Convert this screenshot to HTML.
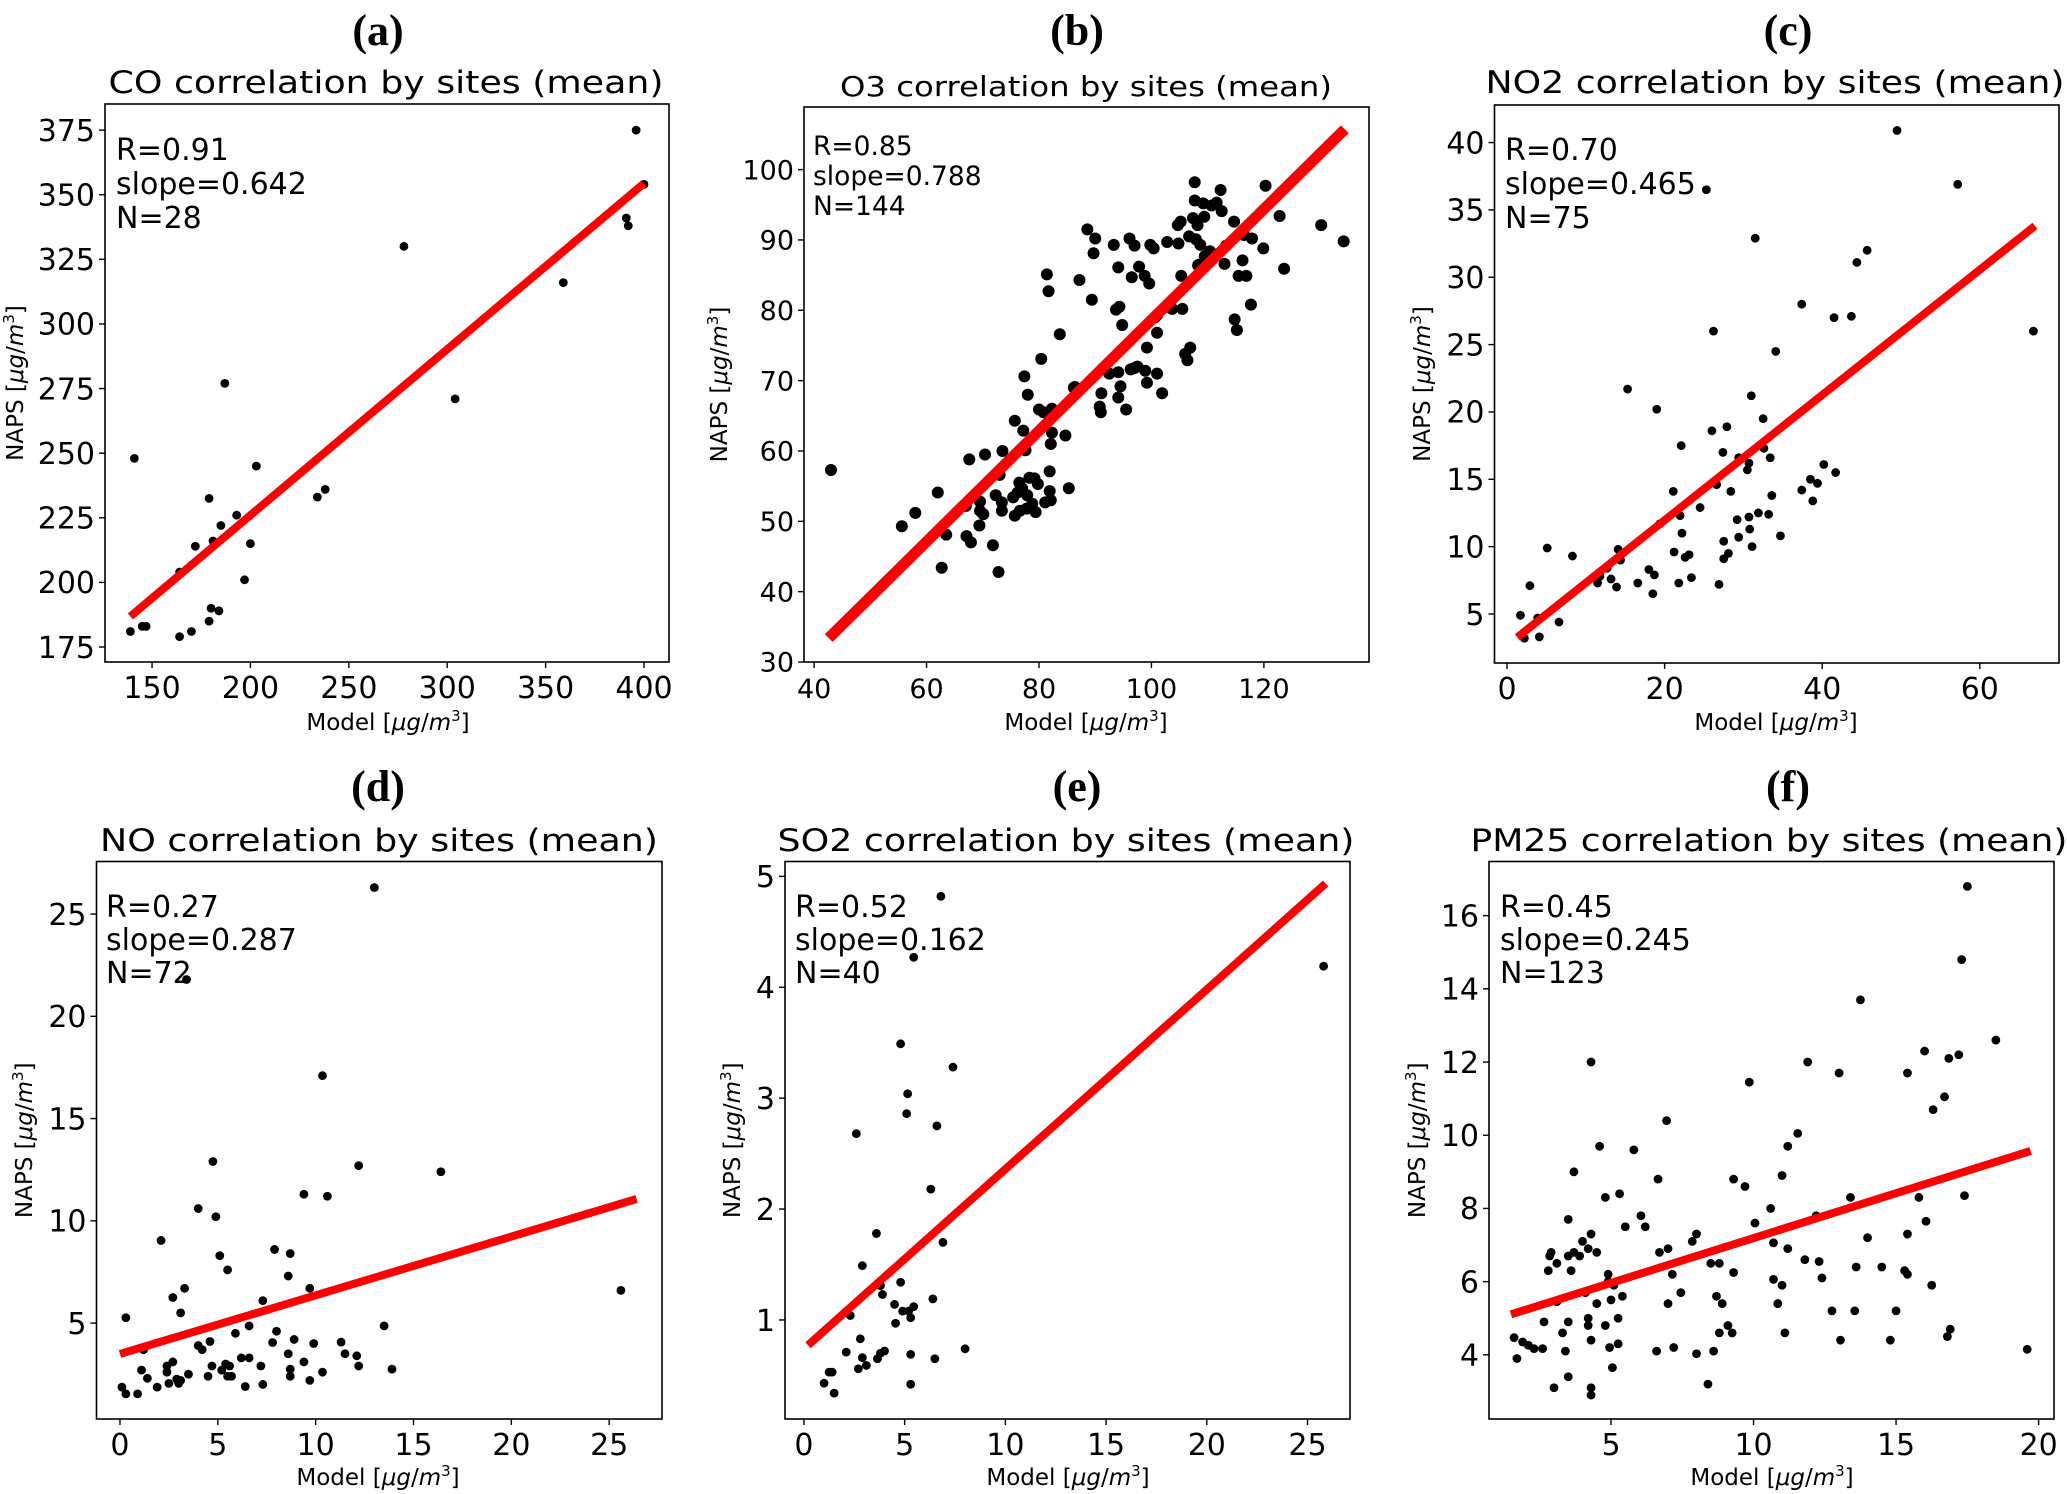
<!DOCTYPE html>
<html><head><meta charset="utf-8">
<style>
html,body{margin:0;padding:0;background:#fff;}
svg{display:block;}
text{font-family:"DejaVu Sans","Liberation Sans",sans-serif;fill:#000;}
</style></head>
<body>
<svg id="fig" width="2067" height="1494" viewBox="0 0 2067 1494" xmlns="http://www.w3.org/2000/svg"></svg>
<script>
// ---------- DATA ----------
const coX = [139,145,147,141,164,164,170,172,179,179,180,181,184,185,187,193,197,200,203,234,238,278,304,359,391,392,396,400];
const coY = [181,183,183,248,179,204,181,214,232.5,185,190,216,189,222,277,226,201,215,245,233,236,330,271,316,341,338,375,354];
const coFit = [0.642, 97.6];
const coFitRange = [139, 400];
const coXTicks = [150,200,250,300,350,400];
const coYTicks = [175,200,225,250,275,300,325,350,375];

const o3X = [43,55.6,58,62,62.7,63.5,67,67.6,67.1,67.9,69.5,69.5,69.4,70.1,70.4,71.8,72.3,72.8,73,73.4,73.4,73.5,75.4,75.7,75.7,76.2,76.6,77,77.2,77.4,77.6,77.8,77.9,78,78.3,79.2,79.4,79.8,80,80.4,81.1,81.4,81.7,81.9,81.9,82.1,82.3,82.1,82.3,83.7,84.7,85.3,86.4,87.2,88.6,89.4,89.7,90,90.8,91,91.1,93.3,93.7,94.1,94.3,94.1,94.5,94.1,94.8,95.5,96.1,96.3,96.5,97,97,97.8,98.8,98.9,99.2,99.2,99.6,99.8,100.4,101,101,101,101.9,102.8,103.7,104.8,104.7,105.2,105.3,105.5,106,106.4,106.9,106.7,107.4,107.7,107.7,107.9,108.2,108.3,108.7,109.2,109.4,109.5,110.4,110.7,111.6,112.3,112.5,113,113.3,114.7,114.8,115.2,115.5,116.2,116.5,116.9,117.7,117.9,119.9,120.3,122.8,123.6,130.2,134.2,76.5,78.8,80.8,86.2,92.5,97.5,100.6,103,108.5,111];
const o3Y = [57.3,49.3,51.2,54.1,43.4,48.1,52.2,58.8,47.9,47,52.8,51.5,49.4,51,59.5,46.6,53.7,42.8,56.6,51.5,52.7,60,53.4,50.8,64.3,54.1,51.5,54.7,62.9,70.6,60.1,51.8,53.7,68,56.2,56.1,51.3,55.3,65.9,73.1,52.7,85.1,82.7,57.1,54.3,61,62.6,53,66,76.6,62.2,54.7,69.1,84.3,91.5,81.5,88.1,90.2,66.3,65.5,68.2,89.3,80.1,86.1,80.5,71.2,69.2,67.6,77.9,65.9,90.2,71.6,84.7,89.2,71.8,86.2,84.9,71.4,74.7,69.7,83.8,89.3,88.8,79.3,76.8,71,68.2,89.7,80.2,89.5,92.1,92.6,84.9,80.2,73.8,72.9,74.7,90.5,93.1,98.2,95.6,90.1,92.1,86.4,89.3,95.2,93.3,87.7,88.4,94.9,95.3,97.1,94.1,86.6,89.2,92.6,78.7,77.2,84.9,87.1,90.7,84.9,80.8,90.2,88.8,97.7,93.4,85.9,92.1,89.8,55.5,52.5,65.5,69,71,72,79,80.5,86.5,88];
const o3Fit = [0.788, -0.17];
const o3FitRange = [42.6, 134.4];
const o3XTicks = [40,60,80,100,120];
const o3YTicks = [30,40,50,60,70,80,90,100];

const no2X = [1.7,2.2,2.9,3.9,4.1,5.1,6.6,8.3,11.5,11.8,12.7,13.2,13.9,14.1,14.4,15.3,16.6,18,18.5,18.7,19,19.4,21.1,21.2,21.8,21.96,22.1,22.2,22.6,23.1,23.4,24.5,25.3,26,26.2,26.6,26.9,27.4,27.5,27.5,27.9,28.1,28.4,29.2,29.4,29.4,30.5,30.7,30.7,30.8,31,31.1,31.5,31.9,32.5,32.6,33.2,33.4,33.6,34.1,34.7,37.4,37.4,38.5,38.8,39.4,40.2,41.5,41.7,43.7,44.4,45.7,49.5,57.2,66.8];
const no2Y = [4.9,3.2,7.1,4.7,3.3,9.9,4.4,9.3,7.3,7.8,8.4,7.6,7,9.8,9,21.7,7.3,8.3,6.5,7.9,20.2,11.7,14.1,9.6,7.3,12.3,17.5,11,9.2,9.4,7.7,12.9,36.5,18.6,26,14.6,7.2,17,10.4,9.1,18.9,9.5,14.1,12,16.6,10.7,15.7,12.2,16.2,11.3,21.2,10,32.9,12.5,19.5,17.3,12.4,16.6,13.8,24.5,10.8,14.2,28,15,13.4,14.7,16.1,27,15.5,27.1,31.1,32,40.9,36.9,26];
const no2Fit = [0.465, 2.66];
const no2FitRange = [1.3, 67];
const no2XTicks = [0,20,40,60];
const no2YTicks = [5,10,15,20,25,30,35,40];

const noX = [0.1,0.3,0.3,0.9,1.1,1.2,1.4,1.9,2.1,2.4,2.4,2.5,2.7,2.7,2.9,3,3.1,3.1,3.3,3.4,3.5,4,4,4.2,4.5,4.6,4.7,4.75,4.9,5.1,5.2,5.4,5.5,5.5,5.6,5.7,5.9,6.2,6.4,6.6,6.6,7.2,7.3,7.3,7.8,7.9,8,8.6,8.6,8.7,8.7,8.7,8.9,9.4,9.4,9.7,9.7,9.9,10.35,10.35,10.6,11.3,11.5,12.1,12.2,12.2,13,13.5,13.9,16.4,25.6,1.2];
const noY = [1.87,1.54,5.26,1.54,2.7,3.7,2.3,1.87,9.04,2.9,2.6,2.05,3.1,6.25,2.26,2.05,5.5,2.2,6.7,21.8,2.5,10.6,3.9,3.7,2.4,4.1,2.9,12.9,10.2,8.3,2.7,3,7.6,2.4,2.9,2.4,4.5,3.3,1.9,3.3,4.86,2.9,6.1,2,4.05,8.6,4.6,7.3,3.5,2.4,2.75,8.4,4.2,11.3,3.1,6.7,2.2,4,17.1,2.6,11.2,4.07,3.5,3.4,12.7,2.9,26.3,4.86,2.75,12.4,6.6,3.7];
const noFit = [0.287, 3.49];
const noFitRange = [0, 26.4];
const noXTicks = [0,5,10,15,20,25];
const noYTicks = [5,10,15,20,25];

const so2X = [1,1.25,1.4,1.5,2.1,2.3,2.6,2.7,2.8,2.9,2.9,3.1,3.6,3.65,3.8,3.8,3.9,4,4.5,4.55,4.8,4.8,4.9,5.1,5.15,5.2,5.3,5.3,5.3,5.45,5.45,6.3,6.4,6.5,6.6,6.8,6.9,7.4,8,25.8];
const so2Y = [0.43,0.53,0.53,0.34,0.71,1.04,2.68,0.56,0.83,0.66,1.49,0.59,1.78,0.65,0.7,1.31,1.23,0.72,1.14,0.97,3.49,1.34,1.08,2.86,3.04,1.08,1.02,0.42,0.69,4.27,1.12,2.18,1.19,0.65,2.75,4.82,1.7,3.28,0.74,4.19];
const so2Fit = [0.162, 0.74];
const so2FitRange = [0.2, 25.9];
const so2XTicks = [0,5,10,15,20,25];
const so2YTicks = [1,2,3,4,5];

const pmX = [1.6,1.7,1.9,2.1,2.3,2.6,2.65,2.8,2.85,2.9,3,3.1,3.1,3.3,3.4,3.5,3.5,3.5,3.5,3.6,3.7,3.7,3.9,4,4.2,4.2,4.2,4.3,4.3,4.3,4.3,4.3,4.5,4.5,4.6,4.8,4.8,4.9,4.9,4.95,5,5.05,5.1,5.25,5.25,5.3,5.4,5.5,5.8,6.05,6.2,6.6,6.65,6.7,6.95,7,7,7.15,7.2,7.45,7.85,8,8,8.4,8.5,8.6,8.7,8.8,8.8,8.9,9.1,9.25,9.3,9.3,9.7,9.85,10.05,10.6,10.7,10.7,10.85,11,11,11.1,11.2,11.2,11.55,11.8,11.9,12.2,12.3,12.4,12.75,13,13.05,13.4,13.6,13.55,13.75,14,14.5,14.8,15,15.3,15.4,15.4,15.4,15.8,16,16.05,16.25,16.3,16.7,16.8,16.85,16.9,17.2,17.3,17.4,17.5,18.5,19.6,4.1];
const pmY = [4.47,3.9,4.35,4.26,4.17,4.17,4.9,6.3,6.7,6.8,3.1,5.45,6.5,4.6,4.1,6.7,3.4,7.7,4.9,6.3,9,6.8,6.7,7.1,6.9,5,4.8,12,3.1,2.9,7.3,4.4,5.4,6.8,9.7,4.8,8.3,6.2,6,4.2,5.5,3.65,5.9,4.3,5,8.4,5.6,7.5,9.6,7.8,7.5,4.1,8.8,6.8,10.4,6.9,5.4,6.2,4.2,5.7,7.1,7.3,4.03,3.2,6.5,4.1,5.6,6.5,4.6,5.4,4.8,4.6,8.8,6.25,8.6,11.45,7.6,8,7.06,6.06,5.4,8.9,5.9,4.6,6.9,9.7,10.05,6.6,12,7.8,6.55,6.1,5.2,11.7,4.4,8.3,6.4,5.2,13.7,7.2,6.4,4.4,5.2,6.3,7.3,11.7,6.2,8.3,12.3,7.65,5.9,10.7,11.05,4.5,12.1,4.7,12.2,14.8,8.35,16.8,12.6,4.15,5.7];
const pmFit = [0.245, 4.74];
const pmFitRange = [1.49, 19.72];
const pmXTicks = [5,10,15,20];
const pmYTicks = [4,6,8,10,12,14,16];

// ---------- LAYOUT ----------
const NS = "http://www.w3.org/2000/svg";
const fig = document.getElementById('fig');
function mk(tag, attrs, parent){
  const e = document.createElementNS(NS, tag);
  for (const k in attrs) e.setAttribute(k, attrs[k]);
  (parent||fig).appendChild(e);
  return e;
}

const panels = [
 {id:'co', letter:'(a)', title:'CO correlation by sites (mean)', stats:['R=0.91','slope=0.642','N=28'],
  xs:coX, ys:coY, fit:coFit, fr:coFitRange, xt:coXTicks, yt:coYTicks,
  box:[105,104,669,662], xd:[126.1,412.7], yd:[169.2,385.1], r:4.4, lw:8,
  fs:30, sfs:30, tfs:31, tx:386, tw:555, tb:93, lx:378, ly:30, sx:116, sy:160, sd:34, ylx:15, xlx:388, xlb:730},
 {id:'o3', letter:'(b)', title:'O3 correlation by sites (mean)', stats:['R=0.85','slope=0.788','N=144'],
  xs:o3X, ys:o3Y, fit:o3Fit, fr:o3FitRange, xt:o3XTicks, yt:o3YTicks,
  box:[804,107,1369,662], xd:[38.2,138.7], yd:[30,108.9], r:6, lw:11,
  fs:27, sfs:26.5, tfs:27.5, tx:1086, tw:492, tb:96, lx:1077, ly:30, sx:813, sy:155, sd:30, ylx:719, xlx:1086, xlb:730},
 {id:'no2', letter:'(c)', title:'NO2 correlation by sites (mean)', stats:['R=0.70','slope=0.465','N=75'],
  xs:no2X, ys:no2Y, fit:no2Fit, fr:no2FitRange, xt:no2XTicks, yt:no2YTicks,
  box:[1494.5,105,2059,663], xd:[-1.59,70.05], yd:[1.36,42.79], r:4.4, lw:8,
  fs:30, sfs:30, tfs:31, tx:1775, tw:579, tb:93, lx:1788, ly:30, sx:1505, sy:160, sd:34, ylx:1422, xlx:1776, xlb:730},
 {id:'no', letter:'(d)', title:'NO correlation by sites (mean)', stats:['R=0.27','slope=0.287','N=72'],
  xs:noX, ys:noY, fit:noFit, fr:noFitRange, xt:noXTicks, yt:noYTicks,
  box:[96.5,861.5,662,1419], xd:[-1.2,27.7], yd:[0.31,27.57], r:4.4, lw:8,
  fs:30, sfs:30, tfs:31, tx:379, tw:558, tb:851, lx:378, ly:786, sx:106, sy:917, sd:33, ylx:24, xlx:378, xlb:1485},
 {id:'so2', letter:'(e)', title:'SO2 correlation by sites (mean)', stats:['R=0.52','slope=0.162','N=40'],
  xs:so2X, ys:so2Y, fit:so2Fit, fr:so2FitRange, xt:so2XTicks, yt:so2YTicks,
  box:[785,861.5,1350,1419], xd:[-0.94,27.11], yd:[0.107,5.134], r:4.4, lw:8,
  fs:30, sfs:30, tfs:31, tx:1066, tw:577, tb:851, lx:1077, ly:786, sx:795, sy:917, sd:33, ylx:732, xlx:1068, xlb:1485},
 {id:'pm25', letter:'(f)', title:'PM25 correlation by sites (mean)', stats:['R=0.45','slope=0.245','N=123'],
  xs:pmX, ys:pmY, fit:pmFit, fr:pmFitRange, xt:pmXTicks, yt:pmYTicks,
  box:[1489,861.5,2054,1419], xd:[0.72,20.54], yd:[2.246,17.48], r:4.4, lw:8,
  fs:30, sfs:30, tfs:31, tx:1769, tw:597, tb:851, lx:1788, ly:786, sx:1500, sy:917, sd:33, ylx:1417, xlx:1772, xlb:1485}
];

panels.forEach(p => {
  const [L,T,R,B] = p.box;
  const sx = v => L + (v - p.xd[0]) / (p.xd[1]-p.xd[0]) * (R-L);
  const sy = v => B - (v - p.yd[0]) / (p.yd[1]-p.yd[0]) * (B-T);
  const g = mk('g', {});
  
  

  let t = mk('text', {x:p.lx, y:p.ly+15, 'text-anchor':'middle', 'font-size':44, 'font-weight':'bold', style:'font-family:"Liberation Serif",serif'}, g);
  t.textContent = p.letter;
  
  

  t = mk('text', {x:p.tx, y:p.tb, 'text-anchor':'middle', 'font-size':p.tfs, textLength:p.tw, lengthAdjust:'spacingAndGlyphs'}, g);
  t.textContent = p.title;
  
  

  const dg = mk('g', {}, g);
  
  
  p.xs.forEach((xv,i) => {
    const c = mk('circle', {cx:sx(xv), cy:sy(p.ys[i]), r:p.r, fill:'#000'}, dg);
    
    
  });

  const x1 = p.fr[0], x2 = p.fr[1];
  const ln = mk('line', {x1:sx(x1), y1:sy(p.fit[0]*x1+p.fit[1]), x2:sx(x2), y2:sy(p.fit[0]*x2+p.fit[1]), stroke:'#ff0000', 'stroke-width':p.lw}, g);
  
  

  const fr = mk('rect', {x:L, y:T, width:R-L, height:B-T, fill:'none', stroke:'#000', 'stroke-width':1.6}, g);
  
  

  p.xt.forEach(v => {
    const x = sx(v);
    mk('line', {x1:x, y1:B, x2:x, y2:B+6, stroke:'#000', 'stroke-width':1.4}, g);
    const tl = mk('text', {x:x, y:B+36, 'text-anchor':'middle', 'font-size':p.fs}, g);
    tl.textContent = v;
    
    
  });
  p.yt.forEach(v => {
    const y = sy(v);
    mk('line', {x1:L-6, y1:y, x2:L, y2:y, stroke:'#000', 'stroke-width':1.4}, g);
    const tl = mk('text', {x:L-10, y:y+p.fs*0.36, 'text-anchor':'end', 'font-size':p.fs}, g);
    tl.textContent = v;
    
    
  });

  p.stats.forEach((s,i) => {
    const st = mk('text', {x:p.sx, y:p.sy + i*p.sd, 'font-size':p.sfs}, g);
    st.textContent = s;
    
    
  });

  const xl = mk('text', {x:p.xlx, y:p.xlb, 'text-anchor':'middle', 'font-size':23}, g);
  xl.innerHTML = 'Model [<tspan font-style="italic">μg</tspan>/<tspan font-style="italic">m</tspan><tspan dy="-9" font-size="15">3</tspan><tspan dy="9">]</tspan>';
  
  
  const cy = (T+B)/2;
  const yl = mk('text', {x:p.ylx, y:cy, 'text-anchor':'middle', 'font-size':23, transform:'rotate(-90 '+p.ylx+' '+cy+') translate(0 8)'}, g);
  yl.innerHTML = 'NAPS [<tspan font-style="italic">μg</tspan>/<tspan font-style="italic">m</tspan><tspan dy="-9" font-size="15">3</tspan><tspan dy="9">]</tspan>';
  
  
});
</script>
</body></html>
